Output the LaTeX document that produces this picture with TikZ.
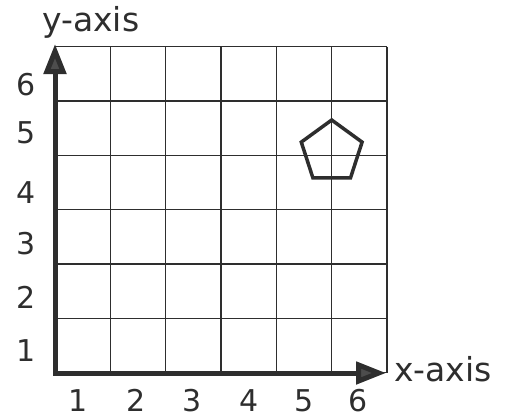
\documentclass[tikz,border=0pt]{standalone}
\usepackage{fontspec}
\setmainfont{DejaVu Sans}
\usetikzlibrary{arrows.meta}
\definecolor{ink}{HTML}{2E2E2E}
\tikzset{
  gridline/.style={draw=ink, line width=1.3pt},
  axisline/.style={draw=ink, line width=5pt, line join=miter},
  lbl/.style={text=ink, font=\fontsize{30pt}{30pt}\selectfont, inner sep=0pt, anchor=center},
  axlbl/.style={text=ink, font=\fontsize{33pt}{33pt}\selectfont, inner sep=0pt, anchor=base west},
  shapeline/.style={draw=ink, line width=3.5pt, line join=miter}
}
\begin{document}
\begin{tikzpicture}[x=1pt,y=-1pt]
\useasboundingbox (0,0) rectangle (507,418);
% grid
\foreach \i in {0,...,6} {
  \draw[gridline] ({55+55.33*\i},46.7) -- ({55+55.33*\i},372.7);
  \draw[gridline] (55,{46.7+54.33*\i}) -- (387,{46.7+54.33*\i});
}
% axes
\coordinate (ytip) at (55,44);
\coordinate (origin) at (55,373);
\coordinate (xtip) at (386,373);
\draw[axisline, {Triangle[length=30pt,width=22pt,fill=ink!85]}-{Triangle[length=30pt,width=22pt,fill=ink!85]}]
  (ytip) -- (origin) -- (xtip);
% pentagon
\draw[shapeline] (331.7,120) -- (362.1,142.1) -- (350.5,177.9) -- (312.9,177.9) -- (301.3,142.1) -- cycle;
% labels
\node[axlbl] (ylab) at (42,31) {y-axis};
\node[axlbl] (xlab) at (394,381.5) {x-axis};
\node[lbl] (y6) at (26.5,84.7) {6};
\node[lbl] (y5) at (26.5,132.5) {5};
\node[lbl] (y4) at (26.5,192.5) {4};
\node[lbl] (y3) at (26.5,244) {3};
\node[lbl] (y2) at (26.5,297) {2};
\node[lbl] (y1) at (26.5,351) {1};
\node[lbl] (x1) at (78.3,400.5) {1};
\node[lbl] (x2) at (135.8,400.5) {2};
\node[lbl] (x3) at (191.7,400.5) {3};
\node[lbl] (x4) at (249,400.5) {4};
\node[lbl] (x5) at (304,400.5) {5};
\node[lbl] (x6) at (358,400.5) {6};
\end{tikzpicture}
\end{document}
